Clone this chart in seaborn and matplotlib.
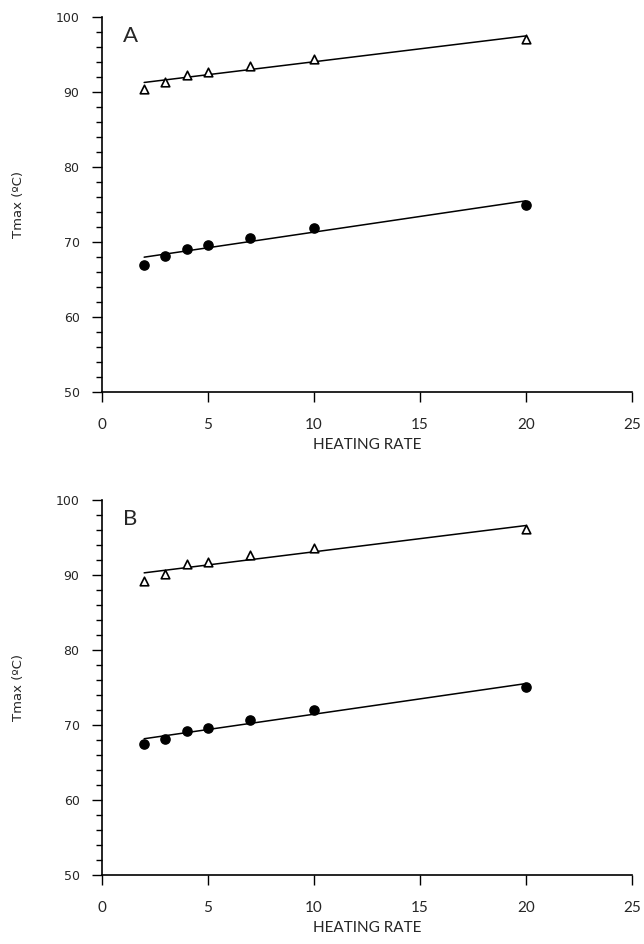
import seaborn as sns
import numpy as np
import pandas as pd
import matplotlib.pyplot as plt
from matplotlib.ticker import MultipleLocator

# heating rates and Tmax readings
rate = [2, 3, 4, 5, 7, 10, 20]
a_upper = [90.4, 91.4, 92.25, 92.6, 93.5, 94.4, 97.1]
a_lower = [66.9, 68.2, 69.1, 69.6, 70.6, 71.9, 75.0]
b_upper = [89.2, 90.2, 91.5, 91.7, 92.7, 93.6, 96.1]
b_lower = [67.5, 68.2, 69.2, 69.6, 70.7, 72.0, 75.1]
panel_names = ['A', 'B']
x_ticks = [0, 5, 10, 15, 20, 25]
y_ticks = [50, 60, 70, 80, 90, 100]

sns.set_style('ticks')
plt.rcParams['font.family'] = ['Lato', 'DejaVu Sans']

fig = plt.figure(figsize=(6.44, 9.44), dpi=100)
ax_a = fig.add_axes([0.158, 0.5847, 0.823, 0.3973])
ax_b = fig.add_axes([0.158, 0.0731, 0.823, 0.3972])

panels = [(ax_a, a_upper, a_lower), (ax_b, b_upper, b_lower)]
for (ax, up, low), name in zip(panels, panel_names):
    df = pd.DataFrame({'rate': rate, 'up': up, 'low': low})
    sns.regplot(data=df, x='rate', y='up', ax=ax, ci=None, marker='^',
                scatter_kws=dict(s=38, facecolor='white', edgecolor='black',
                                 linewidths=1.2, alpha=1, zorder=3),
                line_kws=dict(color='black', lw=1.1))
    sns.regplot(data=df, x='rate', y='low', ax=ax, ci=None, marker='o',
                scatter_kws=dict(s=44, color='black', alpha=1, zorder=3),
                line_kws=dict(color='black', lw=1.1))
    ax.set_xlim(0, 25)
    ax.set_ylim(50, 100)
    ax.set_xticks(x_ticks)
    ax.set_yticks(y_ticks)
    ax.yaxis.set_minor_locator(MultipleLocator(2))
    sns.despine(ax=ax)
    for s in ['left', 'bottom']:
        ax.spines[s].set_linewidth(1.2)
        ax.spines[s].set_color('black')
    ax.tick_params(axis='x', which='major', length=7, width=1, pad=12,
                   labelsize=11, color='black')
    ax.tick_params(axis='y', which='major', length=7, width=1, pad=9,
                   color='black')
    ax.tick_params(axis='y', which='minor', length=4, width=1, color='black')
    for lab in ax.get_yticklabels():
        lab.set_family('DejaVu Sans')
        lab.set_fontsize(9)
    ax.set_xlabel('HEATING RATE', fontsize=11, labelpad=4)
    ax.set_ylabel('Tmax (ºC)', fontsize=9.5, family='DejaVu Sans',
                  labelpad=22)
    ax.text(0.04, 0.975, name, transform=ax.transAxes, va='top', ha='left',
            fontsize=16)

fig.savefig('out.png', dpi=100)
